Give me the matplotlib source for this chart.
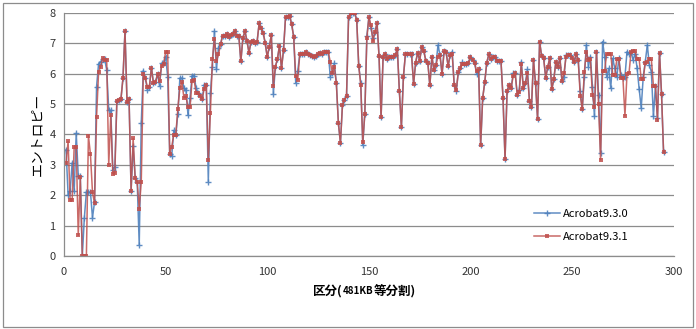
import matplotlib
matplotlib.use("Agg")
import matplotlib.pyplot as plt
from matplotlib.patches import Rectangle
import numpy as np

plt.rcParams['font.family'] = ['Noto Sans CJK JP', 'DejaVu Sans']

# entropy per block, Acrobat 9.3.1 (red)
entropy_931 = [
    3.06, 3.77, 1.83, 1.83, 3.6, 3.6, 0.68, 2.59, 0, 0,
    0, 3.96, 3.34, 2.1, 1.73, 4.56, 6.05, 6.23, 6.5, 6.44,
    6.45, 3.0, 4.63, 2.71, 2.73, 5.11, 5.14, 5.16, 5.85, 7.4,
    5.05, 5.16, 2.15, 3.87, 2.57, 2.45, 1.56, 2.43, 5.99, 5.85,
    5.57, 5.56, 6.2, 5.68, 5.72, 5.98, 5.75, 6.25, 6.32, 6.72,
    6.72, 3.37, 3.6, 3.99, 3.99, 4.85, 5.53, 5.72, 5.2, 5.25,
    4.89, 4.89, 5.77, 5.79, 5.36, 5.36, 5.27, 5.17, 5.51, 5.62,
    3.15, 4.69, 6.47, 7.15, 6.42, 6.63, 6.96, 7.25, 7.25, 7.3,
    7.21, 7.27, 7.3, 7.4, 7.25, 7.25, 6.4, 7.17, 7.4, 7.08,
    6.69, 7.04, 7.07, 7.0, 7.05, 7.65, 7.49, 7.34, 7.0, 6.54,
    6.89, 7.27, 5.6, 6.23, 6.48, 6.92, 6.17, 6.78, 7.87, 7.87,
    7.9, 7.63, 7.21, 5.92, 5.79, 6.64, 6.66, 6.66, 6.72, 6.63,
    6.61, 6.59, 6.56, 6.58, 6.64, 6.69, 6.64, 6.7, 6.7, 6.72,
    6.39, 6.03, 6.21, 5.68, 4.37, 3.72, 4.97, 5.14, 5.25, 7.85,
    7.98, 7.98, 7.98, 7.78, 6.26, 5.63, 3.74, 4.68, 7.16, 7.85,
    7.6, 7.07, 7.36, 7.67, 6.58, 4.56, 6.56, 6.66, 6.47, 6.56,
    6.56, 6.56, 6.61, 6.81, 5.43, 4.24, 5.9, 6.66, 6.63, 6.63,
    6.63, 5.66, 6.36, 6.69, 6.43, 6.89, 6.75, 6.43, 6.36, 5.61,
    6.56, 6.12, 6.28, 6.56, 6.61, 5.98, 6.73, 6.7, 6.25, 6.62,
    6.63, 5.61, 5.46, 6.05, 6.17, 6.31, 6.32, 6.32, 6.36, 6.56,
    6.45, 6.36, 6.07, 6.14, 3.66, 5.2, 5.71, 6.36, 6.63, 6.48,
    6.54, 6.54, 6.42, 6.42, 6.42, 5.2, 3.19, 5.43, 5.63, 5.52,
    5.92, 6.01, 5.3, 5.38, 6.32, 5.52, 5.68, 6.01, 5.11, 4.89,
    6.45, 5.68, 4.51, 7.05, 6.58, 6.5, 5.87, 6.21, 6.52, 5.49,
    5.81, 6.39, 6.23, 6.5, 5.77, 6.01, 6.56, 6.61, 6.61, 6.52,
    6.37, 6.66, 6.45, 5.27, 4.83, 6.04, 6.72, 6.45, 6.48, 5.3,
    4.9, 6.72, 5.0, 3.17, 6.09, 6.09, 6.66, 6.66, 6.66, 5.96,
    5.96, 6.47, 6.47, 5.85, 5.85, 4.61, 5.98, 6.01, 6.72, 6.75,
    6.75, 6.47, 6.47, 5.81, 5.82, 6.36, 6.37, 6.47, 6.47, 5.6,
    5.6, 4.48, 6.69, 5.33, 3.41,
]

# Acrobat 9.3.0 (blue): blocks where it differs from 9.3.1 (block number -> value)
entropy_930_diff = {
    1: 3.5, 2: 2.02, 3: 2.13, 4: 3.06, 5: 2.13, 6: 4.04, 7: 2.64, 8: 2.64,
    9: 0.0, 10: 1.26, 11: 2.1, 12: 2.1, 13: 2.1, 14: 1.26, 15: 1.77,
    16: 5.57, 17: 6.32, 18: 6.39, 19: 6.47, 20: 6.47, 21: 6.12, 22: 4.8,
    23: 4.79, 24: 2.84, 25: 2.93,
    34: 3.63, 37: 0.37, 38: 4.37, 39: 6.1, 41: 5.47,
    47: 5.6, 48: 6.34, 49: 6.34, 50: 6.56, 51: 5.9, 53: 3.3, 54: 4.13,
    56: 4.68, 57: 5.85, 58: 5.85, 59: 5.53, 60: 5.47, 61: 4.63, 62: 5.2,
    63: 5.93, 64: 5.93, 65: 5.52, 69: 5.64, 71: 2.45, 72: 5.36, 73: 6.23,
    74: 7.4, 75: 6.14, 76: 6.85,
    103: 5.33, 114: 5.7, 115: 6.09, 131: 5.9, 133: 6.34, 146: 5.7,
    147: 3.66, 149: 7.24, 151: 7.5, 152: 7.16, 184: 6.94, 191: 6.72,
    193: 5.42, 196: 6.38, 203: 5.99, 221: 6.01, 224: 5.47, 225: 6.39,
    228: 6.14, 246: 5.9, 247: 6.6, 254: 5.44, 256: 5.9, 257: 6.94,
    258: 6.23, 259: 6.56, 260: 5.57, 261: 4.59, 263: 5.3, 264: 3.39,
    265: 7.05, 266: 6.56, 267: 5.9, 268: 6.17, 269: 5.52, 270: 6.5,
    271: 6.17, 272: 5.9, 273: 6.5, 274: 5.96, 276: 5.9, 277: 6.72,
    278: 6.66, 280: 6.45, 281: 6.66, 282: 6.17, 283: 5.49, 284: 4.87,
    285: 5.9, 286: 6.39, 287: 6.94, 288: 6.28, 289: 6.06, 290: 4.59,
    292: 4.54,
}

labels = ["Acrobat9.3.0", "Acrobat9.3.1"]
x_ticks = [0, 50, 100, 150, 200, 250, 300]
y_ticks = [0, 1, 2, 3, 4, 5, 6, 7, 8]

blocks = np.arange(1, len(entropy_931) + 1)
entropy_930 = [entropy_930_diff.get(b, v) for b, v in zip(blocks, entropy_931)]

fig = plt.figure(figsize=(6.96, 3.29), dpi=100)
ax = fig.add_axes([0.092, 0.222, 0.876, 0.739])

ax.plot(blocks, entropy_930, color="#4F81BD", lw=1.1, marker="+",
        markersize=4, mew=1.0, label=labels[0], alpha=0.9)
ax.plot(blocks, entropy_931, color="#C0504D", lw=1.1, marker="s",
        markersize=2.8, mew=0, label=labels[1], alpha=0.85)

ax.set_xlim(0, 300)
ax.set_ylim(0, 8)
ax.set_xticks(x_ticks)
ax.set_yticks(y_ticks)
ax.tick_params(axis="both", length=0, labelsize=8, colors="#333333")
ax.tick_params(axis="x", pad=8)
ax.tick_params(axis="y", pad=6)
ax.grid(axis="y", color="#8c8c8c", lw=0.9)
ax.set_axisbelow(True)
for s in ["top", "right"]:
    ax.spines[s].set_visible(False)
for s in ["left", "bottom"]:
    ax.spines[s].set_color("#8c8c8c")
    ax.spines[s].set_linewidth(0.9)

ax.set_ylabel("エントロピー", fontsize=10, labelpad=4)

# x label, with the size part set smaller as in the original
xl_y = 0.105
parts = [("区分(", 9), ("481KB", 7), ("等分割)", 9)]
t = fig.text(0.45, xl_y, parts[0][0], fontsize=parts[0][1],
             fontweight="bold", ha="left", va="baseline")
fig.canvas.draw()
r = fig.canvas.get_renderer()
x0 = t.get_window_extent(r).x1 / fig.bbox.width
t2 = fig.text(x0, xl_y, parts[1][0], fontsize=parts[1][1], fontweight="bold",
              ha="left", va="baseline")
x1 = t2.get_window_extent(r).x1 / fig.bbox.width
fig.text(x1, xl_y, parts[2][0], fontsize=parts[2][1], fontweight="bold",
         ha="left", va="baseline")

ax.legend(loc="upper left", bbox_to_anchor=(0.755, 0.235), frameon=False,
          fontsize=8, handlelength=2.3, labelspacing=1.2, handletextpad=0.3)

# chart-area border
fig.patches.append(Rectangle((0.005, 0.005), 0.99, 0.985, transform=fig.transFigure,
                             fill=False, edgecolor="#8c8c8c", lw=0.9))

fig.savefig("out.png", dpi=100, facecolor="white")
